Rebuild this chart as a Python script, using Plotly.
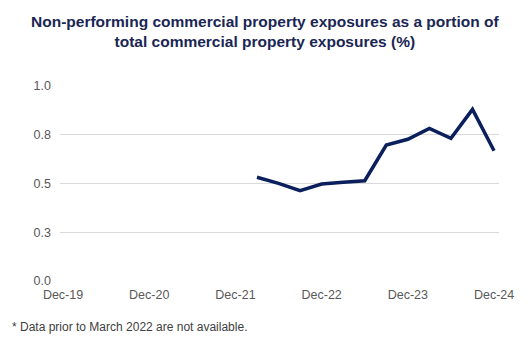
import plotly.graph_objects as go

quarters = ["Dec-19", "Mar-20", "Jun-20", "Sep-20", "Dec-20", "Mar-21", "Jun-21", "Sep-21",
            "Dec-21", "Mar-22", "Jun-22", "Sep-22", "Dec-22", "Mar-23", "Jun-23", "Sep-23",
            "Dec-23", "Mar-24", "Jun-24", "Sep-24", "Dec-24"]
npl_share = [None, None, None, None, None, None, None, None, None,
             0.532, 0.501, 0.463, 0.497, 0.506, 0.514, 0.697, 0.727, 0.783, 0.732, 0.880, 0.668]
tick_labels = ["Dec-19", "Dec-20", "Dec-21", "Dec-22", "Dec-23", "Dec-24"]
y_ticks = [0, 0.25, 0.5, 0.75, 1.0]

title_text = ("Non-performing commercial property exposures as a portion of<br>"
              "total commercial property exposures (%)")
footnote = "* Data prior to March 2022 are not available."

fig = go.Figure()
fig.add_trace(go.Scatter(x=quarters, y=npl_share, mode="lines",
                         line=dict(color="#0b1f5c", width=3.5), connectgaps=False,
                         hoverinfo="skip", showlegend=False))

fig.update_layout(
    width=531, height=348,
    margin=dict(l=60, r=32, t=86, b=67),
    paper_bgcolor="white", plot_bgcolor="white",
    font=dict(family="Liberation Sans, Arial, sans-serif", color="#595959", size=12),
    xaxis=dict(type="category", categoryorder="array", categoryarray=quarters,
               tickmode="array", tickvals=tick_labels, ticktext=tick_labels,
               range=[-0.14, 20.23], showgrid=False, showline=False, zeroline=False,
               ticks="", ticklabelstandoff=4, tickfont=dict(size=12.5, color="#595959")),
    yaxis=dict(range=[0, 1.0], tickvals=y_ticks, tickformat=".1f",
               showgrid=True, gridcolor="#d9d9d9", gridwidth=1, zeroline=False,
               showline=False, ticks="", ticklabelstandoff=8,
               tickfont=dict(size=12.5, color="#595959")),
    annotations=[
        dict(text=title_text, xref="paper", yref="paper", x=0.468, y=1.282,
             xanchor="center", yanchor="middle", showarrow=False, align="center",
             font=dict(family="Liberation Sans, Arial, sans-serif", size=15.5, color="#1a2654", weight="bold")),
        dict(text=footnote, xref="paper", yref="paper",
             x=-0.115, y=-0.19, xanchor="left", yanchor="top", showarrow=False,
             font=dict(size=12, color="#404040")),
    ],
)
fig.write_html("out.html")
